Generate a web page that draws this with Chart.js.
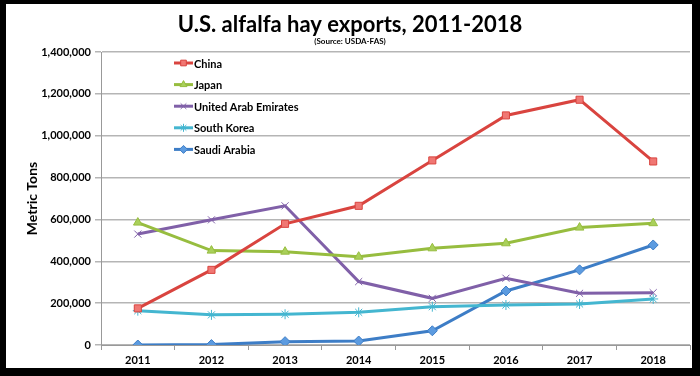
<!DOCTYPE html>
<html>
<head>
<meta charset="utf-8">
<script src="https://cdn.jsdelivr.net/npm/chart.js@4/dist/chart.umd.min.js"></script>
<style>
html,body{margin:0;padding:0;background:#fff;}
#wrap{width:700px;height:376px;position:relative;}
</style>
</head>
<body>
<div id="wrap"><canvas id="c" width="700" height="376"></canvas></div>
<script>
const years = ['2011','2012','2013','2014','2015','2016','2017','2018'];
const china = [175000, 359000, 579000, 665000, 882000, 1097000, 1172000, 877000];
const japan = [585000, 451000, 446000, 422000, 462000, 486000, 561000, 582000];
const uae = [530000, 598000, 665000, 303000, 223000, 319000, 247000, 250000];
const southKorea = [164000, 144000, 147000, 156000, 183000, 191000, 196000, 220000];
const saudiArabia = [0, 2000, 16000, 19000, 68000, 258000, 359000, 478000];
const yTicks = [0, 200000, 400000, 600000, 800000, 1000000, 1200000, 1400000];

const FONT = 'Lato, "Open Sans", sans-serif';

function ds(label, data, color, fill, style, radius){
  return {label, data, borderColor: color, backgroundColor: fill, pointBackgroundColor: fill,
    pointBorderColor: color, pointStyle: style, pointRadius: radius, pointBorderWidth: 1,
    borderWidth: 3, tension: 0};
}
const datasets = [
  ds('China', china, '#D9443F', '#F07773', 'rect', 5),
  ds('Japan', japan, '#97BD3F', '#A9D05A', 'triangle', 5),
  ds('United Arab Emirates', uae, '#8060A8', '#8060A8', 'crossRot', 5),
  ds('South Korea', southKorea, '#44B6D0', '#44B6D0', 'star', 5),
  ds('Saudi Arabia', saudiArabia, '#3D7DC6', '#5C9BE0', 'rectRot', 5)
];

const decor = {
  id: 'decor',
  afterDraw(chart){
    const ctx = chart.ctx;
    ctx.save();
    // title
    ctx.fillStyle = '#000';
    ctx.textAlign = 'center';
    ctx.textBaseline = 'alphabetic';
    ctx.font = 'bold 22px ' + FONT;
    ctx.fillText('U.S. alfalfa hay exports, 2011-2018', 350, 32);
    ctx.font = 'bold 8px ' + FONT;
    ctx.fillText('(Source: USDA-FAS)', 350, 44);
    // legend
    const x0 = 174, items = chart.data.datasets;
    ctx.textAlign = 'left';
    ctx.textBaseline = 'middle';
    items.forEach((d, i) => {
      const y = 63 + i * 21.6;
      ctx.strokeStyle = d.borderColor;
      ctx.lineWidth = 3;
      ctx.beginPath(); ctx.moveTo(x0, y); ctx.lineTo(x0 + 19, y); ctx.stroke();
      ctx.fillStyle = d.pointBackgroundColor;
      ctx.strokeStyle = d.borderColor;
      ctx.lineWidth = 1;
      Chart.helpers.drawPoint(ctx, {pointStyle: d.pointStyle, radius: 4, rotation: 0, borderWidth: 1}, x0 + 9.5, y);
      ctx.fillStyle = '#000';
      ctx.font = 'bold 11px ' + FONT;
      ctx.fillText(d.label, x0 + 20, y + 1);
    });
    // border
    ctx.fillStyle = '#000';
    ctx.fillRect(0, 0, 700, 4);
    ctx.fillRect(0, 0, 6, 376);
    ctx.fillRect(692, 0, 8, 376);
    ctx.fillRect(0, 368, 700, 8);
    ctx.restore();
  }
};

new Chart(document.getElementById('c'), {
  type: 'line',
  data: { labels: years, datasets },
  options: {
    responsive: false,
    animation: false,
    layout: { padding: { top: 52, right: 10, bottom: 10, left: 24 } },
    plugins: { legend: { display: false }, title: { display: false }, tooltip: { enabled: false } },
    scales: {
      x: {
        offset: true,
        grid: { display: true, drawOnChartArea: false, offset: true, tickLength: 5, color: '#999' },
        border: { color: '#999', width: 1 },
        ticks: { color: '#000', font: { family: FONT, size: 11, weight: 'bold' }, padding: 4, maxRotation: 0 },
        afterFit(s){ s.height = 21; }
      },
      y: {
        min: 0, max: 1400000,
        afterBuildTicks(s){ s.ticks = yTicks.map(v => ({value: v})); },
        grid: { color: '#b5b5b5', lineWidth: 1.5, tickLength: 6, drawTicks: true },
        border: { color: '#999', width: 1 },
        ticks: { color: '#000', font: { family: FONT, size: 11, weight: 'bold' }, padding: 4,
          callback: v => v.toLocaleString('en-US') },
        title: { display: true, text: 'Metric Tons', color: '#000', font: { family: FONT, size: 14, weight: 'bold' }, padding: 0 },
        afterFit(s){ s.width = 77; }
      }
    }
  },
  plugins: [decor]
});
</script>
</body>
</html>
